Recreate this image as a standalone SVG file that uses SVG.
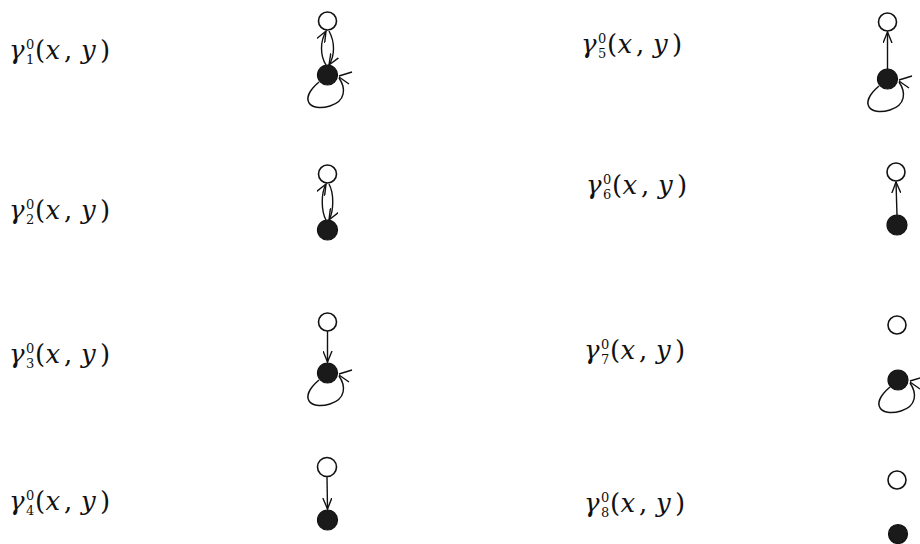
<svg xmlns="http://www.w3.org/2000/svg" width="920" height="544" viewBox="0 0 920 544">
<defs>
<style>
text{font-family:"DejaVu Serif","Liberation Serif",serif;font-size:26px;fill:#111}
.open{fill:#fff;stroke:#111;stroke-width:1.6}
.full{fill:#1a1a1a;stroke:#111;stroke-width:1.2}
.edge{fill:none;stroke:#111;stroke-width:1.4}
</style>
<marker id="ah" markerWidth="12" markerHeight="10" refX="11" refY="5" orient="auto" markerUnits="userSpaceOnUse">
<path d="M0,0.5 L11,5 L0,9.5" fill="none" stroke="#111" stroke-width="1.4"/>
</marker>
</defs>
<rect width="920" height="544" fill="#fff"/>

<g id="labels">
<g id="label-g1"><text y="59"><tspan font-style="italic" x="9">γ</tspan><tspan font-size="13" x="26" dy="-10">0</tspan><tspan font-size="13" x="26" dy="15">1</tspan><tspan x="35" dy="-5">(</tspan><tspan font-style="italic" x="45.5">x</tspan><tspan x="64">,</tspan><tspan font-style="italic" x="81">y</tspan><tspan x="100">)</tspan></text></g>
<g id="label-g2"><text y="219"><tspan font-style="italic" x="9">γ</tspan><tspan font-size="13" x="26" dy="-10">0</tspan><tspan font-size="13" x="26" dy="15">2</tspan><tspan x="35" dy="-5">(</tspan><tspan font-style="italic" x="45.5">x</tspan><tspan x="64">,</tspan><tspan font-style="italic" x="81">y</tspan><tspan x="100">)</tspan></text></g>
<g id="label-g3"><text y="363"><tspan font-style="italic" x="9">γ</tspan><tspan font-size="13" x="26" dy="-10">0</tspan><tspan font-size="13" x="26" dy="15">3</tspan><tspan x="35" dy="-5">(</tspan><tspan font-style="italic" x="45.5">x</tspan><tspan x="64">,</tspan><tspan font-style="italic" x="81">y</tspan><tspan x="100">)</tspan></text></g>
<g id="label-g4"><text y="510"><tspan font-style="italic" x="9">γ</tspan><tspan font-size="13" x="26" dy="-10">0</tspan><tspan font-size="13" x="26" dy="15">4</tspan><tspan x="35" dy="-5">(</tspan><tspan font-style="italic" x="45.5">x</tspan><tspan x="64">,</tspan><tspan font-style="italic" x="81">y</tspan><tspan x="100">)</tspan></text></g>
<g id="label-g5"><text y="53"><tspan font-style="italic" x="581">γ</tspan><tspan font-size="13" x="598" dy="-10">0</tspan><tspan font-size="13" x="598" dy="15">5</tspan><tspan x="607" dy="-5">(</tspan><tspan font-style="italic" x="617.5">x</tspan><tspan x="636">,</tspan><tspan font-style="italic" x="653">y</tspan><tspan x="672">)</tspan></text></g>
<g id="label-g6"><text y="194"><tspan font-style="italic" x="586">γ</tspan><tspan font-size="13" x="603" dy="-10">0</tspan><tspan font-size="13" x="603" dy="15">6</tspan><tspan x="612" dy="-5">(</tspan><tspan font-style="italic" x="622.5">x</tspan><tspan x="641">,</tspan><tspan font-style="italic" x="658">y</tspan><tspan x="677">)</tspan></text></g>
<g id="label-g7"><text y="359"><tspan font-style="italic" x="584">γ</tspan><tspan font-size="13" x="601" dy="-10">0</tspan><tspan font-size="13" x="601" dy="15">7</tspan><tspan x="610" dy="-5">(</tspan><tspan font-style="italic" x="620.5">x</tspan><tspan x="639">,</tspan><tspan font-style="italic" x="656">y</tspan><tspan x="675">)</tspan></text></g>
<g id="label-g8"><text y="512"><tspan font-style="italic" x="584">γ</tspan><tspan font-size="13" x="601" dy="-10">0</tspan><tspan font-size="13" x="601" dy="15">8</tspan><tspan x="610" dy="-5">(</tspan><tspan font-style="italic" x="620.5">x</tspan><tspan x="639">,</tspan><tspan font-style="italic" x="656">y</tspan><tspan x="675">)</tspan></text></g>
</g>

<g id="connectors">
<path class="edge" d="M326,65 C320,55 320,42 326,31" marker-end="url(#ah)"/>
<path class="edge" d="M329,31 C335,42 335,55 329,65" marker-end="url(#ah)"/>
<path class="edge" d="M319,82 C298,100 310,112 330,106 C346,101 346,88 339,78"/>
<path class="edge" d="M339,76 L352,72 M339,77 L349,84"/>
<path class="edge" d="M887.5,69 L887.5,32" marker-end="url(#ah)"/>
<path class="edge" d="M879,86 C858,104 870,116 890,110 C906,105 906,92 899,82"/>
<path class="edge" d="M899,80 L912,76 M899,81 L909,88"/>
<path class="edge" d="M326,220 C321,211 321,193 326,184" marker-end="url(#ah)"/>
<path class="edge" d="M329,184 C334,193 334,211 329,220" marker-end="url(#ah)"/>
<path class="edge" d="M897,215 L896,182" marker-end="url(#ah)"/>
<path class="edge" d="M327.5,331 L327.5,362" marker-end="url(#ah)"/>
<path class="edge" d="M319,380 C298,398 310,410 330,404 C346,399 346,386 339,376"/>
<path class="edge" d="M339,374 L352,370 M339,375 L349,382"/>
<path class="edge" d="M890,387 C869,405 881,417 901,411 C917,406 917,393 910,383"/>
<path class="edge" d="M910,381 L923,377 M910,382 L920,389"/>
<path class="edge" d="M327,477 L327.5,509" marker-end="url(#ah)"/>
</g>

<g id="nodes">
<g id="n1-open"><circle class="open" cx="327.5" cy="21" r="9"/></g>
<g id="n1-full"><circle class="full" cx="327.5" cy="75" r="10"/></g>
<g id="n5-open"><circle class="open" cx="887.5" cy="22" r="9"/></g>
<g id="n5-full"><circle class="full" cx="887.5" cy="79" r="10"/></g>
<g id="n2-open"><circle class="open" cx="327.5" cy="174" r="9"/></g>
<g id="n2-full"><circle class="full" cx="327.5" cy="230" r="10"/></g>
<g id="n6-open"><circle class="open" cx="896" cy="172" r="9"/></g>
<g id="n6-full"><circle class="full" cx="897" cy="225" r="10"/></g>
<g id="n3-open"><circle class="open" cx="327.5" cy="322" r="9"/></g>
<g id="n3-full"><circle class="full" cx="327.5" cy="373" r="10"/></g>
<g id="n7-open"><circle class="open" cx="897" cy="325" r="9"/></g>
<g id="n7-full"><circle class="full" cx="898" cy="380" r="10"/></g>
<g id="n4-open"><circle class="open" cx="327" cy="467" r="9.5"/></g>
<g id="n4-full"><circle class="full" cx="327.5" cy="520" r="10"/></g>
<g id="n8-open"><circle class="open" cx="897" cy="480" r="9"/></g>
<g id="n8-full"><circle class="full" cx="898" cy="534" r="9.5"/></g>
</g>
</svg>
